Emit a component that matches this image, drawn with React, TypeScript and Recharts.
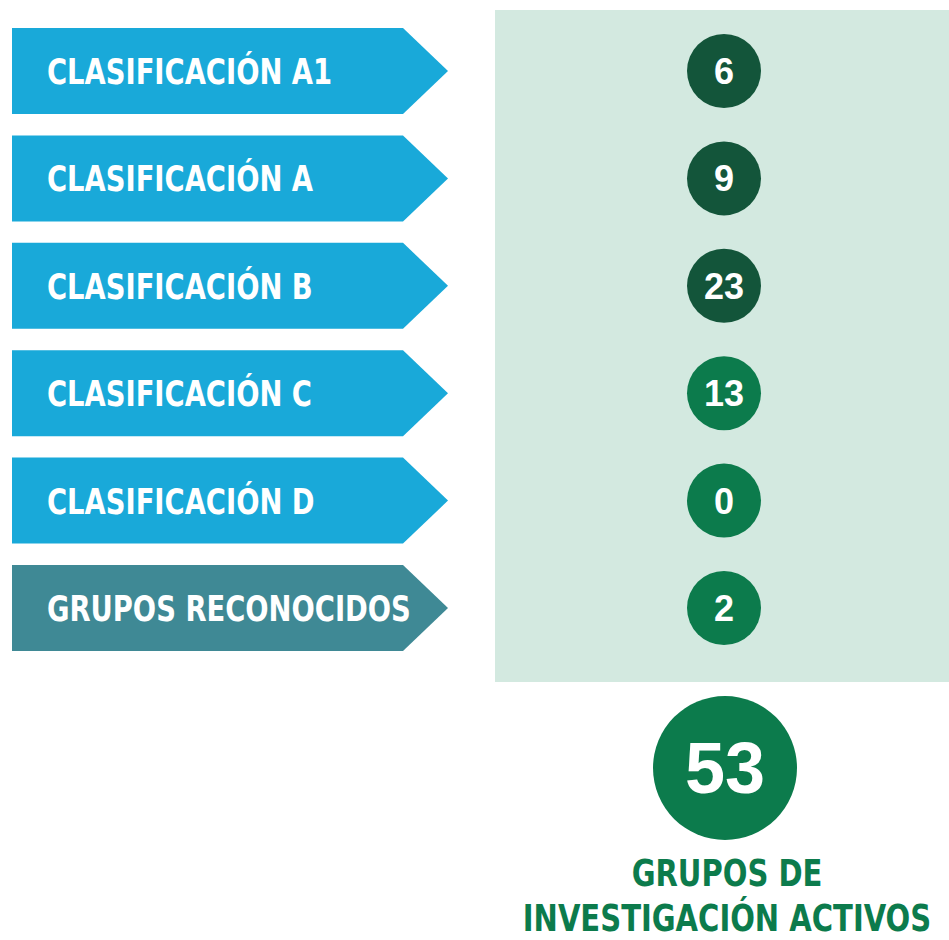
import { ComposedChart, Scatter, XAxis, YAxis } from 'recharts';

// clasificación de los grupos de investigación
const categories = [
  'CLASIFICACIÓN A1',
  'CLASIFICACIÓN A',
  'CLASIFICACIÓN B',
  'CLASIFICACIÓN C',
  'CLASIFICACIÓN D',
  'GRUPOS RECONOCIDOS',
];
const groupCounts = [6, 9, 23, 13, 0, 2];
const titleLines = ['GRUPOS DE', 'INVESTIGACIÓN ACTIVOS'];

const BLUE = '#19a9d9';
const TEAL = '#3f8995';
const DARK_GREEN = '#13553a';
const GREEN = '#0c7b4c';
const PANEL = '#d3e9e0';

const NARROW = "'Liberation Sans Narrow', 'DejaVu Sans Condensed', 'Roboto', sans-serif";
const SANS = "'Liberation Sans', Arial, sans-serif";

const rows = categories.map((name, i) => ({ name, count: groupCounts[i] }));
const total = groupCounts.reduce((a, b) => a + b, 0);

function ArrowTick(props: any) {
  const { y, payload } = props;
  const name: string = payload.value;
  const fill = name.startsWith('GRUPOS') ? TEAL : BLUE;
  const h = 43;
  const pts = `12,${y - h} 403,${y - h} 448,${y} 403,${y + h} 12,${y + h}`;
  return (
    <g>
      <polygon points={pts} fill={fill} />
      <text
        x={0}
        y={0}
        transform={`translate(47 ${y + 13}) scale(0.87 1)`}
        fill="#fff"
        fontFamily={NARROW}
        fontWeight={700}
        fontSize={35}
      >
        {name}
      </text>
    </g>
  );
}

function CountDot(props: any) {
  const { cx, cy, payload, index } = props;
  const fill = index < 3 ? DARK_GREEN : GREEN;
  return (
    <g>
      <circle cx={cx} cy={cy} r={37} fill={fill} />
      <text x={cx} y={cy + 13} textAnchor="middle" fill="#fff" fontFamily={SANS} fontWeight={700} fontSize={36}>
        {payload.count}
      </text>
    </g>
  );
}

export default function App() {
  return (
    <div style={{ position: 'absolute', left: 0, top: 0, width: 949, height: 940, background: '#fff', overflow: 'hidden' }}>
      <div style={{ position: 'absolute', left: 495, top: 10, width: 454, height: 672, background: PANEL }} />
      <div style={{ position: 'absolute', left: 0, top: 0 }}>
        <ComposedChart
          width={949}
          height={940}
          layout="vertical"
          data={rows}
          margin={{ top: 71, right: 0, bottom: 332, left: 0 }}
        >
          <XAxis type="number" dataKey={() => 0} domain={[-1, 1]} hide />
          <YAxis
            type="category"
            dataKey="name"
            width={499}
            axisLine={false}
            tickLine={false}
            interval={0}
            tick={<ArrowTick />}
          />
          <Scatter dataKey="count" shape={<CountDot />} isAnimationActive={false} />
        </ComposedChart>
      </div>
      <svg width={949} height={940} style={{ position: 'absolute', left: 0, top: 0 }}>
        <circle cx={725} cy={768} r={72} fill={GREEN} />
        <text x={725} y={793} textAnchor="middle" fill="#fff" fontFamily={SANS} fontWeight={700} fontSize={72}>
          {total}
        </text>
        <g transform="translate(727 0) scale(0.85 1)">
          <text x={0} y={886} textAnchor="middle" fill={GREEN} fontFamily={NARROW} fontWeight={700} fontSize={38}>
            {titleLines[0]}
          </text>
          <text x={0} y={931} textAnchor="middle" fill={GREEN} fontFamily={NARROW} fontWeight={700} fontSize={38}>
            {titleLines[1]}
          </text>
        </g>
      </svg>
    </div>
  );
}
